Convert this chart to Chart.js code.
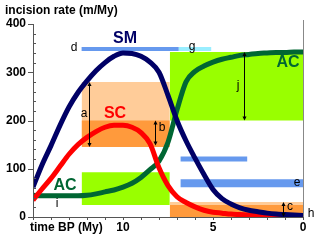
<!DOCTYPE html>
<html>
<head>
<meta charset="utf-8">
<script src="https://cdn.jsdelivr.net/npm/chart.js@4"></script>
<style>
  html, body { margin: 0; padding: 0; background: #fff; }
  canvas { display: block; }
</style>
</head>
<body>
<canvas id="chart" width="320" height="240"></canvas>
<script>
// time before present (My), left = 15, right = 0
const times = [15, 14.5, 14, 13.5, 13, 12.5, 12, 11.5, 11, 10.5, 10, 9.5, 9, 8.5, 8, 7.5, 7, 6.5, 6, 5.5, 5, 4.5, 4, 3.5, 3, 2.5, 2, 1.5, 1, 0.5, 0];
const smRate = [62, 108, 148, 190, 228, 258, 282, 303, 320, 333, 340, 339, 333, 321, 300, 252, 200, 158, 122, 88, 57, 38, 27, 19, 14, 11, 8, 6, 5, 4, 3];
const scRate = [35, 58, 80, 105, 130, 150, 165, 177, 186, 190, 190, 186, 175, 152, 102, 65, 42, 30, 21, 14, 10, 8, 6, 5, 4, 3, 3, 2, 2, 2, 2];
const acRate = [45, 44, 44, 44, 44, 44, 45, 48, 52, 56, 62, 70, 82, 98, 116, 155, 222, 280, 302, 313, 321, 327, 331, 335, 337, 339, 340, 341, 341, 342, 342];

// shaded ranges
const boxStart = [12.3, 12.3, 12.3, 7.4, 7.4, 7.4];
const boxEnd   = [7.4, 7.4, 7.4, 0, 0, 0];
const boxLow   = [145, 145, 25, 200, 0, 0];
const boxHigh  = [280, 200, 93, 342, 31, 25];

// horizontal bars
const barStart = [12.3, 6.9, 6.8, 6.8];
const barEnd   = [6.9, 5.1, 3.1, 0];
const barLevel = [348, 348, 120, 70];

// double arrows a, b, j, c
const arrowTime = [11.9, 8.2, 3.3, 1.1];
const arrowLow  = [145, 148, 200, 0];
const arrowHigh = [280, 200, 342, 31];

const yTicks = [0, 100, 200, 300, 400];
const xTicks = [10, 5, 0];

const boxColors = ['#ffcc99', '#ff9a3c', '#99ff00', '#99ff00', '#ffcc99', '#ff9a3c'];
const barColors = ['#6699ee', '#99eeff', '#6699ee', '#6699ee'];
const barWidths = [4, 4, 5, 8];

const FONT = '"Liberation Sans", Arial, sans-serif';

const datasets = [];

boxStart.forEach((x0, i) => {
    datasets.push({
        data: [{ x: x0, y: boxHigh[i] }, { x: boxEnd[i], y: boxHigh[i] }],
        borderWidth: 0,
        backgroundColor: boxColors[i],
        fill: { value: boxLow[i] },
        pointRadius: 0
    });
});

barStart.forEach((x0, i) => {
    datasets.push({
        data: [{ x: x0, y: barLevel[i] }, { x: barEnd[i], y: barLevel[i] }],
        borderWidth: barWidths[i],
        borderColor: barColors[i],
        borderCapStyle: 'butt',
        fill: false,
        pointRadius: 0
    });
});

function curve(values, color) {
    return {
        data: times.map((t, i) => ({ x: t, y: values[i] })),
        borderColor: color,
        borderWidth: 5,
        fill: false,
        pointRadius: 0,
        cubicInterpolationMode: 'monotone'
    };
}
datasets.push(curve(acRate, '#006633'));
datasets.push(curve(scRate, '#ff0000'));
datasets.push(curve(smRate, '#000066'));

// later datasets on top
datasets.forEach((d, i) => d.order = 100 - i);

function arrowHead(ctx, x, y, dir) {
    ctx.beginPath();
    ctx.moveTo(x, y);
    ctx.lineTo(x - 2, y + 4 * dir);
    ctx.lineTo(x + 2, y + 4 * dir);
    ctx.closePath();
    ctx.fill();
}

const decor = {
    id: 'decor',
    afterDatasetsDraw(chart) {
        const { ctx, chartArea: area, scales: { x, y } } = chart;
        ctx.save();

        // right border
        ctx.strokeStyle = '#888';
        ctx.lineWidth = 1;
        ctx.beginPath();
        ctx.moveTo(area.right + 0.5, area.top - 4);
        ctx.lineTo(area.right + 0.5, area.bottom);
        ctx.stroke();

        // axes
        ctx.strokeStyle = '#555';
        ctx.beginPath();
        ctx.moveTo(area.left + 0.5, area.top);
        ctx.lineTo(area.left + 0.5, area.bottom + 0.5);
        ctx.lineTo(area.right, area.bottom + 0.5);
        ctx.stroke();

        // y ticks every 20, majors outside
        ctx.beginPath();
        for (let v = 0; v <= 400; v += 20) {
            const py = Math.round(y.getPixelForValue(v)) + 0.5;
            if (v % 100 === 0) {
                ctx.moveTo(area.left - 5, py);
                ctx.lineTo(area.left, py);
            } else {
                ctx.moveTo(area.left, py);
                ctx.lineTo(area.left + 3, py);
            }
        }
        // x ticks every 1 My
        for (let t = 0; t <= 15; t++) {
            const px = Math.round(x.getPixelForValue(t)) + 0.5;
            ctx.moveTo(px, area.bottom);
            ctx.lineTo(px, area.bottom + 3);
        }
        ctx.stroke();

        // arrows
        ctx.strokeStyle = '#000';
        ctx.fillStyle = '#000';
        arrowTime.forEach((t, i) => {
            const px = Math.round(x.getPixelForValue(t)) + 0.5;
            const y0 = y.getPixelForValue(arrowHigh[i]);
            const y1 = y.getPixelForValue(arrowLow[i]);
            ctx.beginPath();
            ctx.moveTo(px, y0 + 2);
            ctx.lineTo(px, y1 - 2);
            ctx.stroke();
            arrowHead(ctx, px, y0, 1);
            arrowHead(ctx, px, y1, -1);
        });

        // tick labels
        ctx.font = 'bold 12px ' + FONT;
        ctx.fillStyle = '#000';
        ctx.textAlign = 'right';
        ctx.textBaseline = 'middle';
        yTicks.forEach(v => ctx.fillText(String(v), area.left - 7, y.getPixelForValue(v)));
        ctx.textAlign = 'center';
        xTicks.forEach(t => ctx.fillText(String(t), x.getPixelForValue(t), 228));
        ctx.textAlign = 'left';
        ctx.fillText('time BP (My)', 30, 228);
        ctx.fillText('incision rate (m/My)', 5, 11);

        // series names
        ctx.font = 'bold 16px ' + FONT;
        ctx.textAlign = 'center';
        ctx.fillStyle = '#000066';
        ctx.fillText('SM', 125, 39);
        ctx.fillStyle = '#ff0000';
        ctx.fillText('SC', 115, 114);
        ctx.fillStyle = '#006633';
        ctx.fillText('AC', 288, 63);
        ctx.fillText('AC', 65, 186);

        // letters
        ctx.font = '12px ' + FONT;
        ctx.fillStyle = '#000';
        const letters = [['a', 84, 114], ['b', 162, 128], ['c', 290, 207], ['d', 74, 48],
                         ['e', 297, 183], ['g', 192, 47], ['h', 311, 214], ['i', 57, 204], ['j', 238, 86]];
        letters.forEach(([s, lx, ly]) => ctx.fillText(s, lx, ly));

        ctx.restore();
    }
};

new Chart(document.getElementById('chart'), {
    type: 'line',
    data: { datasets },
    options: {
        responsive: false,
        animation: false,
        devicePixelRatio: 1,
        layout: { padding: { left: 33, right: 17, top: 24, bottom: 23 } },
        scales: {
            x: { type: 'linear', min: 0, max: 15, reverse: true, display: false },
            y: { min: 0, max: 400, display: false }
        },
        plugins: { legend: { display: false }, tooltip: { enabled: false } }
    },
    plugins: [decor]
});
</script>
</body>
</html>
